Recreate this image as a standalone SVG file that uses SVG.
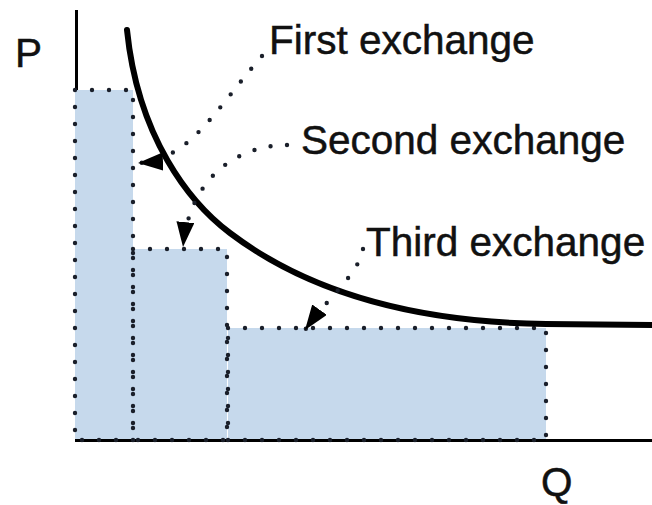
<svg xmlns="http://www.w3.org/2000/svg" width="652" height="505" viewBox="0 0 652 505">
  <defs>
    <style>
      .bar { fill: #c6d9ec; stroke: none; }
      .dots { fill: none; stroke: #1a1f2a; stroke-width: 4.4; stroke-linecap: round; stroke-dasharray: 0 17; }
      .axis { fill: none; stroke: #000; stroke-width: 3; }
      .demand { fill: none; stroke: #000; stroke-width: 6; stroke-linecap: round; }
      .lbl { font-family: "Liberation Sans", Arial, Helvetica, sans-serif; font-size: 40.5px; fill: #111; stroke: #111; stroke-width: 0.5; }
      .leader { fill: none; stroke: #1a1f2a; stroke-width: 4.4; stroke-linecap: round; stroke-dasharray: 0 16.5; marker-end: url(#head); }
    </style>
    <marker id="head" markerUnits="userSpaceOnUse" markerWidth="28" markerHeight="20" refX="25" refY="9" orient="auto" viewBox="0 0 28 20">
      <path d="M0,0 L25,9 L0,18 z" fill="#000"/>
    </marker>
  </defs>

  <!-- vertical price axis (fills of the bars sit on top of it) -->
  <g id="axis-p">
    <line class="axis" x1="76.5" y1="10" x2="76.5" y2="440"/>
  </g>

  <!-- exchange areas -->
  <g id="bar-1">
    <rect class="bar" x="75" y="90" width="58" height="350"/>
  </g>
  <g id="bar-2">
    <rect class="bar" x="133" y="249" width="94" height="191"/>
  </g>
  <g id="bar-3">
    <rect class="bar" x="228" y="328" width="318" height="112"/>
  </g>

  <!-- horizontal quantity axis -->
  <g id="axis-q">
    <line class="axis" x1="75" y1="440.5" x2="652" y2="440.5"/>
  </g>

  <!-- dotted outlines of the bars -->
  <g id="bar-outlines">
    <rect class="dots" x="75" y="90" width="58" height="350"/>
    <rect class="dots" x="133" y="249" width="94" height="191"/>
    <rect class="dots" x="228" y="328" width="318" height="112"/>
  </g>

  <!-- demand curve -->
  <g id="curve">
    <path class="demand" d="M127,30 C138,138 190,203 230,233 C296,283 396,322 546,324 L652,325"/>
  </g>

  <!-- axis letters -->
  <g id="axis-labels">
    <text class="lbl" x="15" y="67">P</text>
    <text class="lbl" x="541" y="496">Q</text>
  </g>

  <!-- callout labels -->
  <g id="label-first">
    <text class="lbl" x="269" y="54">First exchange</text>
  </g>
  <g id="label-second">
    <text class="lbl" x="301" y="154">Second exchange</text>
  </g>
  <g id="label-third">
    <text class="lbl" x="366" y="256">Third exchange</text>
  </g>

  <!-- dotted leaders with arrowheads -->
  <g id="connectors">
    <path class="leader" d="M262,56 C215,110 190,160 138,163"/>
    <path class="leader" d="M287,145 C240,145 190,175 183,247"/>
    <path class="leader" d="M363,249 C358,275 330,295 305,330"/>
  </g>
</svg>
